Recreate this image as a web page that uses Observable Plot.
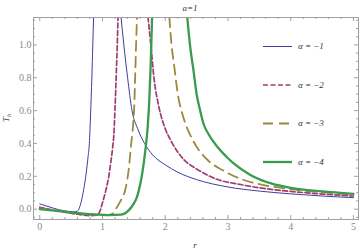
<!DOCTYPE html>
<html><head><meta charset="utf-8">
<script src="https://cdn.jsdelivr.net/npm/d3@7"></script>
<script src="https://cdn.jsdelivr.net/npm/@observablehq/plot@0.6"></script>
<style>body{margin:0;background:#fff}#chart{position:relative;width:361px;height:250px}</style>
</head><body><div id="chart"></div>
<script>
// series labels / styles
const seriesLabels = ["α = −1", "α = −2", "α = −3", "α = −4"];
const seriesColors = ["#3d3d9e", "#a03c73", "#9b8a3c", "#3a9a4e"];
const seriesDash = [null, "5,2.5", "10,6", null];
const seriesWidth = [1, 1.7, 1.8, 2.3];

// α = -1 (two branches)
const b1r = [0, 0.1, 0.2, 0.3, 0.4, 0.5, 0.55, 0.6, 0.65, 0.7, 0.74, 0.77, 0.79, 0.81, 0.83, 0.845, 0.858];
const b1t = [0.032, 0.02, 0.008, -0.003, -0.011, -0.015, -0.016, -0.012, 0.03, 0.12, 0.22, 0.32, 0.40, 0.58, 0.80, 1.0, 1.17];
const b2r = [1.295, 1.34, 1.40, 1.47, 1.56, 1.67, 1.8, 2.0, 2.2, 2.5, 3.0, 3.5, 4.0, 4.5, 5.0];
const b2t = [1.17, 1.0, 0.8, 0.6, 0.49, 0.40, 0.33, 0.27, 0.225, 0.18, 0.135, 0.11, 0.093, 0.08, 0.07];
// α = -2
const p1r = [0, 0.2, 0.4, 0.6, 0.8, 0.9, 0.95, 1.0, 1.05, 1.1, 1.13, 1.16, 1.18, 1.2, 1.22, 1.235, 1.247];
const p1t = [0.012, -0.004, -0.019, -0.031, -0.039, -0.036, -0.02, 0.04, 0.11, 0.2, 0.28, 0.37, 0.45, 0.62, 0.83, 1.0, 1.17];
const p2r = [1.725, 1.77, 1.82, 1.9, 2.0, 2.1, 2.3, 2.5, 2.8, 3.2, 3.5, 4.0, 4.5, 5.0];
const p2t = [1.17, 1.0, 0.8, 0.62, 0.49, 0.41, 0.30, 0.245, 0.185, 0.15, 0.13, 0.108, 0.092, 0.08];
// α = -3
const g1r = [0, 0.3, 0.6, 0.9, 1.05, 1.15, 1.23, 1.3, 1.37, 1.42, 1.455, 1.487, 1.505, 1.52, 1.535, 1.55];
const g1t = [0.005, -0.01, -0.024, -0.034, -0.037, -0.03, 0.012, 0.06, 0.13, 0.25, 0.39, 0.51, 0.62, 0.80, 1.0, 1.17];
const g2r = [2.065, 2.1, 2.14, 2.2, 2.28, 2.4, 2.5, 2.7, 2.9, 3.2, 3.5, 4.0, 4.5, 5.0];
const g2t = [1.17, 1.0, 0.88, 0.70, 0.57, 0.45, 0.38, 0.29, 0.24, 0.185, 0.152, 0.122, 0.102, 0.088];
// α = -4
const n1r = [0, 0.3, 0.6, 0.9, 1.1, 1.3, 1.42, 1.5, 1.55, 1.6, 1.63, 1.68, 1.72, 1.745, 1.77, 1.79];
const n1t = [0.0, -0.012, -0.025, -0.033, -0.036, -0.033, -0.006, 0.035, 0.075, 0.15, 0.21, 0.35, 0.50, 0.66, 0.90, 1.17];
const n2r = [2.35, 2.4, 2.45, 2.5, 2.55, 2.61, 2.7, 2.83, 3.0, 3.1, 3.35, 3.7, 4.0, 4.5, 5.0];
const n2t = [1.17, 0.98, 0.845, 0.70, 0.61, 0.52, 0.45, 0.38, 0.31, 0.275, 0.21, 0.155, 0.13, 0.108, 0.093];

// ticks
const xMajor = [0, 1, 2, 3, 4, 5];
const yMajor = [0, 0.2, 0.4, 0.6, 0.8, 1.0];
const xMinor = d3.range(-0.0, 5.01, 0.2).map(v => +v.toFixed(2)).filter(v => !xMajor.includes(v));
const yMinor = d3.range(-0.05, 1.16, 0.05).map(v => +v.toFixed(2)).filter(v => !yMajor.some(m => Math.abs(m - v) < 1e-9));
const titleText = "a=1";

const branches = [
  [0, b1r, b1t], [0, b2r, b2t],
  [1, p1r, p1t], [1, p2r, p2t],
  [2, g1r, g1t], [2, g2r, g2t],
  [3, n1r, n1t], [3, n2r, n2t]
];

const W = 361, H = 250, mL = 33, mR = 3, mT = 17, mB = 31;
const iw = W - mL - mR, ih = H - mT - mB;
const frameColor = "#a0a0a0";
const font = "'Liberation Serif', 'DejaVu Serif', serif";

const lineMarks = branches.map(([s, rs, ts], i) => {
  const rows = rs.map((r, j) => ({r, t: ts[j]}));
  return Plot.line(rows, {x: "r", y: "t", curve: "monotone-x", stroke: seriesColors[s],
    strokeWidth: seriesWidth[s], strokeDasharray: seriesDash[s] ?? undefined, clip: true});
});

const chart = Plot.plot({
  width: W, height: H,
  marginLeft: mL, marginRight: mR, marginTop: mT, marginBottom: mB,
  style: {fontFamily: font, background: "#fff"},
  x: {domain: [-0.1, 5.08]},
  y: {domain: [-0.063, 1.167]},
  marks: [
    // inward ticks on all four sides
    Plot.tickX(xMajor, {x: d => d, insetTop: ih - 4, stroke: frameColor}),
    Plot.tickX(xMajor, {x: d => d, insetBottom: ih - 4, stroke: frameColor}),
    Plot.tickX(xMinor, {x: d => d, insetTop: ih - 2, stroke: frameColor}),
    Plot.tickX(xMinor, {x: d => d, insetBottom: ih - 2, stroke: frameColor}),
    Plot.tickY(yMajor, {y: d => d, insetRight: iw - 4, stroke: frameColor}),
    Plot.tickY(yMajor, {y: d => d, insetLeft: iw - 4, stroke: frameColor}),
    Plot.tickY(yMinor, {y: d => d, insetRight: iw - 2, stroke: frameColor}),
    Plot.tickY(yMinor, {y: d => d, insetLeft: iw - 2, stroke: frameColor}),
    Plot.axisX(xMajor, {tickSize: 0, tickPadding: 3, label: null, fill: "#8a8a8a", fontSize: 10, tickFormat: d => String(d)}),
    Plot.axisY(yMajor, {tickSize: 0, tickPadding: 2, label: null, fill: "#8a8a8a", fontSize: 10, tickFormat: d3.format(".1f")}),
    ...lineMarks,
    Plot.frame({stroke: frameColor})
  ]
});
document.getElementById("chart").appendChild(chart);

const svg = d3.select(chart);
// title
svg.append("text").attr("x", 190).attr("y", 11).attr("text-anchor", "middle")
  .attr("font-family", font).attr("font-style", "italic").attr("font-size", 9).attr("fill", "#333").text(titleText);
// axis labels
const yl = svg.append("text").attr("transform", "translate(9,118) rotate(-90)").attr("text-anchor", "middle")
  .attr("font-family", font).attr("font-style", "italic").attr("font-size", 9).attr("fill", "#333");
yl.append("tspan").text("T");
yl.append("tspan").attr("font-size", 6).attr("dy", 2).text("h");
svg.append("text").attr("x", 195).attr("y", 248).attr("text-anchor", "middle")
  .attr("font-family", font).attr("font-style", "italic").attr("font-size", 9).attr("fill", "#333").text("r");
// legend
const legY = [46.5, 85, 123.5, 162];
seriesLabels.forEach((lab, i) => {
  svg.append("line").attr("x1", 263).attr("x2", 292).attr("y1", legY[i]).attr("y2", legY[i])
    .attr("stroke", seriesColors[i]).attr("stroke-width", seriesWidth[i])
    .attr("stroke-dasharray", seriesDash[i]);
  svg.append("text").attr("x", 298).attr("y", legY[i]).attr("dy", "0.32em").attr("text-anchor", "start")
    .attr("font-family", font).attr("font-style", "italic").attr("font-size", 9).attr("fill", "#333").text(lab);
});
</script>
</body></html>
